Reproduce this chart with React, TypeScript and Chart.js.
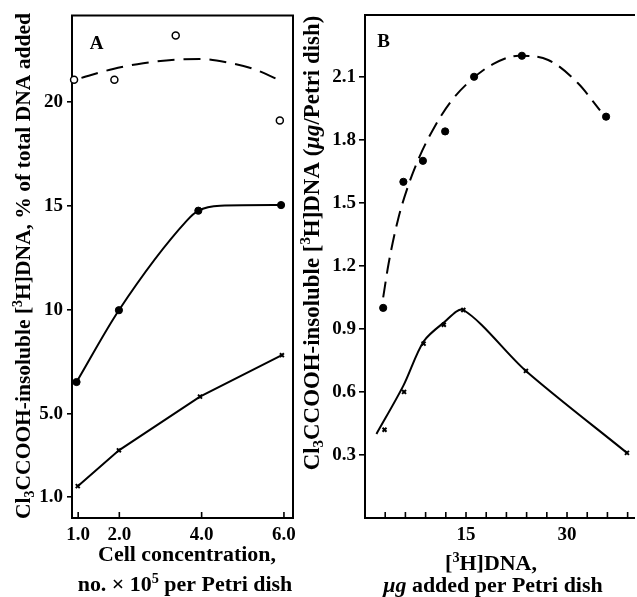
import React, { useEffect, useRef } from "react";
import { Chart, registerables } from "chart.js";
Chart.register(...registerables);

// ---------- Panel A data ----------
const aTickX = [1, 2, 4, 6];
const aTickXLabels = ["1.0", "2.0", "4.0", "6.0"];
const aTickY = [1, 5, 10, 15, 20];
const aTickYLabels = ["1.0", "5.0", "10", "15", "20"];

const aOpenX = [0.9, 1.88, 3.37, 5.9];
const aOpenY = [21.05, 21.05, 23.17, 19.09];
const aDashX = [1.08, 1.85, 2.58, 3.39, 3.96, 4.61, 5.26, 5.86];
const aDashY = [21.14, 21.57, 21.84, 22.02, 22.05, 21.89, 21.57, 21.06];

const aFilledX = [0.96, 1.99, 3.92, 5.93];
const aFilledY = [6.53, 9.98, 14.76, 15.03];
const aSolidX = [0.96, 1.99, 3.64, 3.92, 4.45, 5.93];
const aSolidY = [6.53, 9.98, 14.28, 14.76, 15.0, 15.03];

const aCrossX = [0.99, 1.99, 3.96, 5.95];
const aCrossY = [1.53, 3.25, 5.83, 7.82];

// ---------- Panel B data ----------
const bTickX = [3, 6, 9, 12, 15, 18, 21, 24, 27, 30, 33, 36, 39];
const bTickXLabeled = [15, 30];
const bTickY = [0.3, 0.6, 0.9, 1.2, 1.5, 1.8, 2.1];
const bTickYLabels = ["0.3", "0.6", "0.9", "1.2", "1.5", "1.8", "2.1"];

const bFilledX = [2.7, 5.7, 8.6, 11.9, 16.2, 23.3, 35.8];
const bFilledY = [1.0, 1.6, 1.7, 1.84, 2.1, 2.2, 1.91];
const bDashX = [2.7, 3.5, 4.9, 6.4, 8.1, 10.3, 12.7, 15.6, 19.0, 22.8, 27.2, 31.6, 34.9];
const bDashY = [1.05, 1.21, 1.42, 1.58, 1.72, 1.86, 1.98, 2.08, 2.16, 2.2, 2.18, 2.07, 1.94];

const bCrossX = [2.9, 5.8, 8.7, 11.7, 14.6, 23.9, 38.9];
const bCrossY = [0.42, 0.6, 0.83, 0.92, 0.99, 0.7, 0.31];
const bSolidX = [1.7, 5.7, 8.7, 11.7, 14.6, 23.9, 38.9];
const bSolidY = [0.4, 0.63, 0.84, 0.93, 0.99, 0.7, 0.31];

const W = 637;
const H = 597;
const FONT = '"Liberation Serif", "Times New Roman", serif';

type Seg = { t: string; sup?: boolean; sub?: boolean; it?: boolean };

const aYTitle: Seg[] = [
  { t: "Cl" }, { t: "3", sub: true }, { t: "CCOOH-insoluble [" }, { t: "3", sup: true },
  { t: "H]DNA, % of total DNA added" },
];
const bYTitle: Seg[] = [
  { t: "Cl" }, { t: "3", sub: true }, { t: "CCOOH-insoluble [" }, { t: "3", sup: true },
  { t: "H]DNA (" }, { t: "μg", it: true }, { t: "/Petri dish)" },
];
const aXTitle1: Seg[] = [{ t: "Cell concentration," }];
const aXTitle2: Seg[] = [{ t: "no. × 10" }, { t: "5", sup: true }, { t: " per Petri dish" }];
const bXTitle1: Seg[] = [{ t: "[" }, { t: "3", sup: true }, { t: "H]DNA," }];
const bXTitle2: Seg[] = [{ t: "μg", it: true }, { t: " added per Petri dish" }];

const zip = (xs: number[], ys: number[]) => xs.map((x, i) => ({ x, y: ys[i] }));

function segFont(s: Seg, size: number) {
  const sz = s.sup || s.sub ? size * 0.65 : size;
  return `${s.it ? "italic " : ""}bold ${sz}px ${FONT}`;
}
function measureRich(ctx: CanvasRenderingContext2D, segs: Seg[], size: number) {
  let w = 0;
  for (const s of segs) {
    ctx.font = segFont(s, size);
    w += ctx.measureText(s.t).width;
  }
  return w;
}
function fitSize(ctx: CanvasRenderingContext2D, segs: Seg[], target: number) {
  const m = measureRich(ctx, segs, 20);
  return (20 * target) / m;
}
function drawRich(ctx: CanvasRenderingContext2D, segs: Seg[], size: number, cx: number, cy: number, rot: number) {
  ctx.save();
  ctx.translate(cx, cy);
  ctx.rotate(rot);
  const w = measureRich(ctx, segs, size);
  let x = -w / 2;
  ctx.fillStyle = "#000";
  ctx.textAlign = "left";
  ctx.textBaseline = "alphabetic";
  const base = size * 0.33;
  for (const s of segs) {
    ctx.font = segFont(s, size);
    const dy = s.sup ? -size * 0.38 : s.sub ? size * 0.2 : 0;
    ctx.fillText(s.t, x, base + dy);
    x += ctx.measureText(s.t).width;
  }
  ctx.restore();
}

type Deco = {
  closed: boolean;
  xMarks: number[];
  letter: { t: string; x: number; y: number };
  yTitle: { segs: Seg[]; cx: number; cy: number; fitLen: number };
  xTitles: { segs: Seg[]; cx: number; cy: number }[];
};

function makeDeco(cfg: Deco) {
  return {
    id: "deco",
    beforeDatasetsDraw(chart: any) {
      const ctx = chart.ctx as CanvasRenderingContext2D;
      const { left, right, top, bottom } = chart.chartArea;
      ctx.save();
      ctx.strokeStyle = "#000";
      ctx.lineWidth = 2;
      ctx.beginPath();
      if (cfg.closed) {
        ctx.rect(left, top, right - left, bottom - top);
      } else {
        ctx.moveTo(right + 4, top);
        ctx.lineTo(left, top);
        ctx.lineTo(left, bottom);
        ctx.lineTo(right + 4, bottom);
      }
      ctx.stroke();
      const xs = chart.scales.x;
      ctx.lineWidth = 1.6;
      ctx.beginPath();
      for (const v of cfg.xMarks) {
        const px = xs.getPixelForValue(v);
        ctx.moveTo(px, bottom);
        ctx.lineTo(px, bottom - 6);
      }
      ctx.stroke();
      ctx.restore();
    },
    afterDraw(chart: any) {
      const ctx = chart.ctx as CanvasRenderingContext2D;
      ctx.save();
      ctx.fillStyle = "#000";
      ctx.font = `bold 19px ${FONT}`;
      ctx.textAlign = "center";
      ctx.textBaseline = "middle";
      ctx.fillText(cfg.letter.t, cfg.letter.x, cfg.letter.y);
      const ys = fitSize(ctx, cfg.yTitle.segs, cfg.yTitle.fitLen);
      drawRich(ctx, cfg.yTitle.segs, ys, cfg.yTitle.cx, cfg.yTitle.cy, -Math.PI / 2);
      const xsz = fitSize(ctx, aXTitle1, 178);
      for (const t of cfg.xTitles) {
        drawRich(ctx, t.segs, xsz, t.cx, t.cy, 0);
      }
      ctx.restore();
    },
  };
}

const tickFont = { family: FONT, size: 19, weight: "bold" as const };

function lineDs(data: any[], dash: number[], mode: "monotone" | "default", tension: number) {
  return {
    data,
    showLine: true,
    borderColor: "#000",
    borderWidth: 2,
    borderDash: dash,
    pointRadius: 0,
    cubicInterpolationMode: mode,
    tension,
    clip: false as any,
  };
}
function ptDs(data: any[], style: string, fill: string, radius: number, bw: number) {
  return {
    data,
    showLine: false,
    pointStyle: style,
    pointRadius: radius,
    pointBackgroundColor: fill,
    pointBorderColor: "#000",
    pointBorderWidth: bw,
    clip: false as any,
  };
}

function buildA(canvas: HTMLCanvasElement) {
  return new Chart(canvas, {
    type: "scatter",
    data: {
      datasets: [
        lineDs(zip(aDashX, aDashY), [17, 9], "monotone", 0.4),
        lineDs(zip(aSolidX, aSolidY), [], "monotone", 0.4),
        lineDs(zip(aCrossX, aCrossY), [], "default", 0),
        ptDs(zip(aOpenX, aOpenY), "circle", "#fff", 3.5, 1.5),
        ptDs(zip(aFilledX, aFilledY), "circle", "#000", 3.6, 1),
        ptDs(zip(aCrossX, aCrossY), "crossRot", "#000", 2.8, 2),
      ] as any,
    },
    options: {
      responsive: false,
      animation: false,
      events: [],
      layout: { padding: { left: 0, top: 15, right: W - 293, bottom: 0 } },
      plugins: { legend: { display: false }, tooltip: { enabled: false } },
      scales: {
        x: {
          type: "linear",
          min: 0.85,
          max: 6.22,
          afterFit: (s: any) => { s.height = H - 518; },
          afterBuildTicks: (s: any) => { s.ticks = aTickX.map((v) => ({ value: v })); },
          ticks: {
            callback: (v: any) => aTickXLabels[aTickX.indexOf(Number(v))] ?? "",
            font: tickFont, color: "#000", padding: 6, maxRotation: 0, autoSkip: false,
          },
          grid: { display: false, drawTicks: false },
          border: { display: false },
        },
        y: {
          type: "linear",
          min: 0,
          max: 24.14,
          afterFit: (s: any) => { s.width = 72; },
          afterBuildTicks: (s: any) => { s.ticks = aTickY.map((v) => ({ value: v })); },
          ticks: {
            callback: (v: any) => aTickYLabels[aTickY.indexOf(Number(v))] ?? "",
            font: tickFont, color: "#000", padding: 4, autoSkip: false,
          },
          grid: { display: true, drawOnChartArea: false, drawTicks: true, tickLength: 5, color: "#000", lineWidth: 1.6 },
          border: { display: false },
        },
      },
    } as any,
    plugins: [
      makeDeco({
        closed: true,
        xMarks: aTickX,
        letter: { t: "A", x: 96.5, y: 44 },
        yTitle: { segs: aYTitle, cx: 23, cy: 266, fitLen: 506 },
        xTitles: [
          { segs: aXTitle1, cx: 187, cy: 554 },
          { segs: aXTitle2, cx: 185, cy: 584 },
        ],
      }) as any,
    ],
  });
}

function buildB(canvas: HTMLCanvasElement) {
  return new Chart(canvas, {
    type: "scatter",
    data: {
      datasets: [
        lineDs(zip(bDashX, bDashY), [16, 8], "monotone", 0.4),
        lineDs(zip(bSolidX, bSolidY), [], "default", 0.3),
        ptDs(zip(bFilledX, bFilledY), "circle", "#000", 3.6, 1),
        ptDs(zip(bCrossX, bCrossY), "crossRot", "#000", 2.8, 2),
      ] as any,
    },
    options: {
      responsive: false,
      animation: false,
      events: [],
      layout: { padding: { left: 0, top: 15, right: 0, bottom: 0 } },
      plugins: { legend: { display: false }, tooltip: { enabled: false } },
      scales: {
        x: {
          type: "linear",
          min: 0,
          max: 39.5,
          afterFit: (s: any) => { s.height = H - 518; },
          afterBuildTicks: (s: any) => { s.ticks = bTickX.map((v) => ({ value: v })); },
          ticks: {
            callback: (v: any) => (bTickXLabeled.includes(Number(v)) ? String(v) : ""),
            font: tickFont, color: "#000", padding: 6, maxRotation: 0, autoSkip: false,
          },
          grid: { display: false, drawTicks: false },
          border: { display: false },
        },
        y: {
          type: "linear",
          min: 0,
          max: 2.394,
          afterFit: (s: any) => { s.width = 365; },
          afterBuildTicks: (s: any) => { s.ticks = bTickY.map((v) => ({ value: v })); },
          ticks: {
            callback: (v: any) => bTickYLabels[bTickY.indexOf(Number(v))] ?? "",
            font: tickFont, color: "#000", padding: 3, autoSkip: false,
          },
          grid: { display: true, drawOnChartArea: false, drawTicks: true, tickLength: 6, color: "#000", lineWidth: 1.6 },
          border: { display: false },
        },
      },
    } as any,
    plugins: [
      makeDeco({
        closed: false,
        xMarks: bTickX,
        letter: { t: "B", x: 383.5, y: 42.5 },
        yTitle: { segs: bYTitle, cx: 311, cy: 243, fitLen: 455 },
        xTitles: [
          { segs: bXTitle1, cx: 491, cy: 563 },
          { segs: bXTitle2, cx: 493, cy: 585 },
        ],
      }) as any,
    ],
  });
}

export default function App() {
  const refA = useRef<HTMLCanvasElement>(null);
  const refB = useRef<HTMLCanvasElement>(null);
  useEffect(() => {
    const a = buildA(refA.current!);
    const b = buildB(refB.current!);
    return () => {
      a.destroy();
      b.destroy();
    };
  }, []);
  const cs: React.CSSProperties = { position: "absolute", left: 0, top: 0, width: W, height: H };
  return (
    <div style={{ position: "absolute", left: 0, top: 0, width: W, height: H, background: "#fff", overflow: "hidden" }}>
      <canvas ref={refA} width={W} height={H} style={cs} />
      <canvas ref={refB} width={W} height={H} style={cs} />
    </div>
  );
}
